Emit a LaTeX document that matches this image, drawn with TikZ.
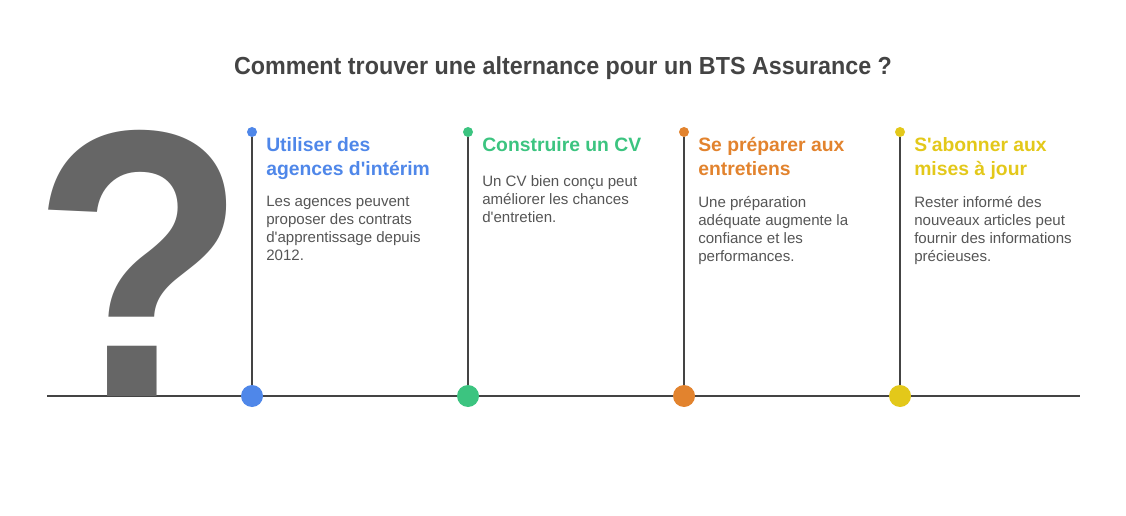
\documentclass[tikz,border=0pt]{standalone}
\usepackage{fontspec}
\setmainfont{Liberation Sans}
\usepackage{tikz}

\definecolor{lineGray}{HTML}{444444}
\definecolor{textGray}{HTML}{555555}
\definecolor{markGray}{HTML}{666666}
\definecolor{stepBlue}{HTML}{4F87E9}
\definecolor{stepGreen}{HTML}{3CC480}
\definecolor{stepOrange}{HTML}{E2832E}
\definecolor{stepYellow}{HTML}{E3C81A}

\newcommand{\apos}{\textquotesingle}

\tikzset{
  bigdot/.style={shape=circle, fill=#1, minimum size=16.5pt, inner sep=0pt},
  smalldot/.style={shape=circle, fill=#1, minimum size=7.5pt, inner sep=0pt},
  stepline/.style={draw=lineGray, line width=1.5pt},
  steptitle/.style={anchor=north west, inner sep=0pt, align=left, text=#1,
    font=\fontsize{14.5}{18}\selectfont\bfseries},
  stepbody/.style={anchor=north west, inner sep=0pt, align=left, text=textGray,
    font=\fontsize{11.3}{13.5}\selectfont}
}

\begin{document}
\begin{tikzpicture}[x=0.75pt, y=-0.75pt]
\useasboundingbox (0,0) rectangle (1126,516);

\node[text=lineGray, xscale=0.945, font=\fontsize{18.5}{22}\selectfont\bfseries](title) at (563,68) {Comment trouver une alternance pour un BTS Assurance ?};

\coordinate (left) at (47,396);
\coordinate (right) at (1080,396);

\node[bigdot=stepBlue](dot1) at (252,396) {};
\node[bigdot=stepGreen](dot2) at (468,396) {};
\node[bigdot=stepOrange](dot3) at (684,396) {};
\node[bigdot=stepYellow](dot4) at (900,396) {};

\node[smalldot=stepBlue](top1) at (252,132) {};
\node[smalldot=stepGreen](top2) at (468,132) {};
\node[smalldot=stepOrange](top3) at (684,132) {};
\node[smalldot=stepYellow](top4) at (900,132) {};

\path[stepline] (left) edge (dot1);
\path[stepline] (dot1) edge (dot2);
\path[stepline] (dot2) edge (dot3);
\path[stepline] (dot3) edge (dot4);
\path[stepline] (dot4) edge (right);

\path[stepline] (top1) edge (dot1);
\path[stepline] (top2) edge (dot2);
\path[stepline] (top3) edge (dot3);
\path[stepline] (top4) edge (dot4);

\node[anchor=base, inner sep=0pt, xscale=0.92, text=markGray, font=\fontsize{286}{286}\selectfont\bfseries](qmark) at (140,396) {?};

\node[steptitle=stepBlue](head1) at (266,137) {Utiliser des\\agences d\apos intérim};
\node[stepbody](text1) at (266,196) {Les agences peuvent\\proposer des contrats\\d\apos apprentissage depuis\\2012.};

\node[steptitle=stepGreen](head2) at (482,137) {Construire un CV};
\node[stepbody](text2) at (482,175) {Un CV bien conçu peut\\améliorer les chances\\d\apos entretien.};

\node[steptitle=stepOrange](head3) at (698,137) {Se préparer aux\\entretiens};
\node[stepbody](text3) at (698,196) {Une préparation\\adéquate augmente la\\confiance et les\\performances.};

\node[steptitle=stepYellow](head4) at (914,137) {S\apos abonner aux\\mises à jour};
\node[stepbody](text4) at (914,196) {Rester informé des\\nouveaux articles peut\\fournir des informations\\précieuses.};
\end{tikzpicture}
\end{document}
